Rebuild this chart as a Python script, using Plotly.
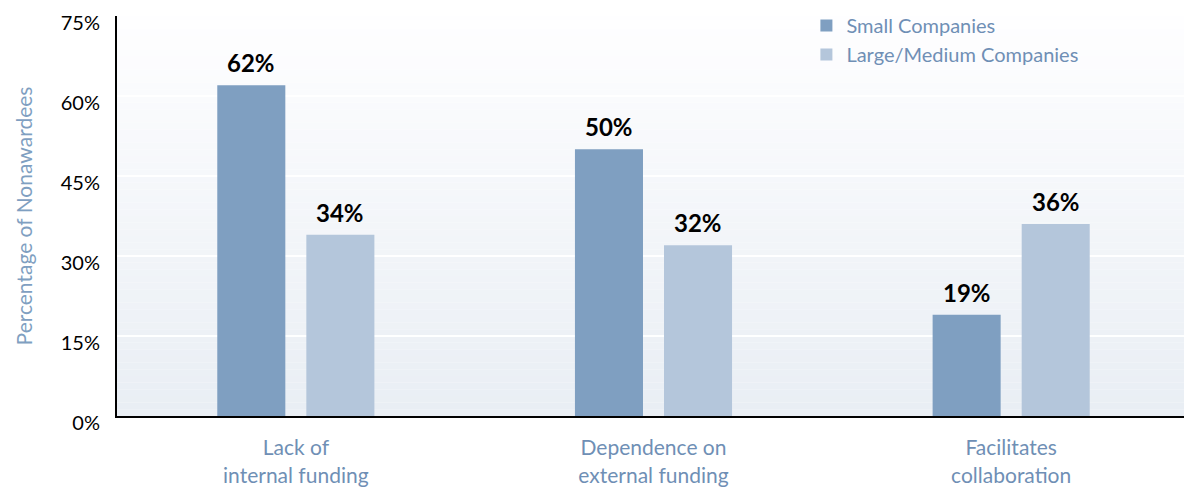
import plotly.graph_objects as go

categories = ["Lack of<br>internal funding", "Dependence on<br>external funding", "Facilitates<br>collaboration"]
small_companies = [62, 50, 19]
large_medium_companies = [34, 32, 36]
y_ticks = [0, 15, 30, 45, 60, 75]
y_tick_labels = ["0%", "15%", "30%", "45%", "60%", "75%"]

C_SMALL = "#7f9fc1"
C_LARGE = "#b4c6db"
C_TEXT = "#6f8fb5"
FONT = "Lato"

fig = go.Figure()
series = [("Small Companies", small_companies, C_SMALL, -44.5),
          ("Large/Medium Companies", large_medium_companies, C_LARGE, 44.5)]
annotations = []
for name, vals, col, dx in series:
    fig.add_trace(go.Bar(
        x=categories, y=vals, name=name,
        marker=dict(color=col, line=dict(width=0)),
    ))
    for c, v in zip(categories, vals):
        annotations.append(dict(x=c, y=v, xref="x", yref="y", text="<b>%d%%</b>" % v,
                                showarrow=False, xanchor="center", yanchor="bottom",
                                xshift=dx, yshift=6,
                                font=dict(family=FONT, size=24, color="#000000")))

# gradient background for plot area
n = 60
top = (254, 254, 255)
bot = (233, 238, 244)
shapes = []
for i in range(n):
    t = i / (n - 1)
    c = tuple(int(round(top[k] + (bot[k] - top[k]) * t)) for k in range(3))
    shapes.append(dict(type="rect", xref="paper", yref="paper", layer="below",
                       x0=0, x1=1, y0=1 - (i + 1) / n, y1=1 - i / n,
                       fillcolor="rgb(%d,%d,%d)" % c, line=dict(width=0)))

# page body has an 8px default margin, so the figure is sized to fit the window
fig.update_layout(
    width=1184, height=479,
    margin=dict(l=109, r=2, t=8, b=71, autoexpand=False),
    paper_bgcolor="white", plot_bgcolor="rgba(0,0,0,0)",
    barmode="group", bargap=0.502, bargroupgap=0.236,
    shapes=shapes, annotations=annotations,
    font=dict(family=FONT),
    showlegend=True,
    legend=dict(x=0.6425, y=1.025, xanchor="left", yanchor="top",
                orientation="v", bgcolor="rgba(0,0,0,0)",
                font=dict(family=FONT, size=20, color=C_TEXT),
                tracegroupgap=0, itemwidth=30),
    xaxis=dict(showgrid=False, showline=True, linecolor="#000000", linewidth=2,
               ticks="", automargin=False, ticklabelstandoff=12,
               tickfont=dict(family=FONT, size=21, color=C_TEXT)),
    yaxis=dict(range=[0, 75], tickvals=y_ticks, ticktext=y_tick_labels,
               showgrid=True, gridcolor="rgba(255,255,255,0.95)", gridwidth=1.5,
               showline=True, linecolor="#000000", linewidth=2, ticks="",
               zeroline=False, ticklabelstandoff=11, ticklabelshift=7,
               ticklabeloverflow="allow", automargin=False,
               tickfont=dict(family=FONT, size=20, color="#000000"),
               title=dict(text="Percentage of Nonawardees", standoff=22,
                          font=dict(family=FONT, size=21, color=C_SMALL))),
)

fig.write_html("out.html")
